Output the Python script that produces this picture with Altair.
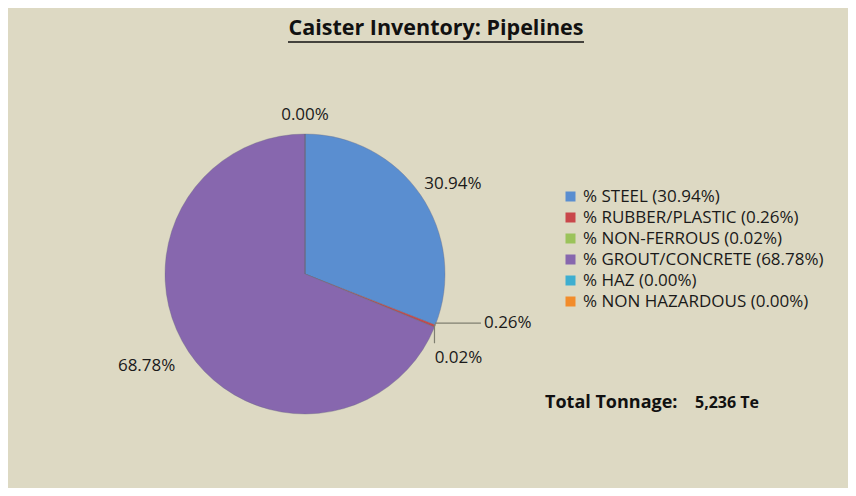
import altair as alt
import pandas as pd
import numpy as np

categories = ["% STEEL", "% RUBBER/PLASTIC", "% NON-FERROUS", "% GROUT/CONCRETE", "% HAZ", "% NON HAZARDOUS"]
percent = [30.94, 0.26, 0.02, 68.78, 0.00, 0.00]
colors = ["#5A8ED0", "#C9474A", "#9BC35A", "#8767AE", "#3EAED0", "#F28C2B"]
title_text = "Caister Inventory: Pipelines"
total_label = "Total Tonnage:"
total_value = "5,236 Te"

FONT = "Open Sans"
BG = "#DDD9C3"
TXT = "#1a1a1a"
CX, CY, R = 297, 266, 140

df = pd.DataFrame({"cat": categories, "pct": percent, "order": list(range(len(categories)))})
df["legend"] = [f"{c} ({p:.2f}%)" for c, p in zip(categories, percent)]
df["label"] = [f"{p:.2f}%" for p in percent]
df["mid"] = df["pct"].cumsum() - df["pct"] / 2

theta_scale = alt.Scale(domain=[0, 100], range=[0, 2 * np.pi])

arcs = alt.Chart(df).mark_arc(outerRadius=R, stroke="#6a6a80", strokeWidth=0.6, strokeOpacity=0.6).encode(
    theta=alt.Theta("pct:Q", stack=True, scale=theta_scale),
    color=alt.Color("legend:N", sort=None,
                    scale=alt.Scale(domain=list(df["legend"]), range=colors),
                    legend=alt.Legend(title=None, orient="none", legendX=554, legendY=180,
                                      symbolType="square", symbolSize=100, symbolStrokeWidth=0,
                                      labelFont=FONT, labelFontSize=17, labelColor=TXT,
                                      rowPadding=3, padding=0, labelOffset=4, labelLimit=400)),
    order=alt.Order("order:Q"),
    x=alt.value(CX), y=alt.value(CY),
)

def label_layer(cat, radius, dx=0, dy=0):
    return alt.Chart(df).transform_filter(alt.datum.cat == cat).mark_text(
        radius=radius, font=FONT, fontSize=17, color=TXT, dx=dx, dy=dy
    ).encode(theta=alt.Theta("mid:Q", scale=theta_scale), text="label:N",
             x=alt.value(CX), y=alt.value(CY))

lab_steel = label_layer("% STEEL", 173, 5, 8)
lab_conc = label_layer("% GROUT/CONCRETE", 187, -3, -12)
lab_haz = label_layer("% HAZ", 159)

# leader lines for the tiny slices
def edge(cat):
    m = float(df.loc[df.cat == cat, "mid"].iloc[0]) / 100 * 2 * np.pi
    return CX + R * np.sin(m), CY - R * np.cos(m)

ex, ey = edge("% RUBBER/PLASTIC")
fx, fy = edge("% NON-FERROUS")
lead = pd.DataFrame({
    "x": [ex, fx], "y": [ey - 3, fy - 3],
    "x2": [ex + 46, fx], "y2": [ey - 3, fy + 16],
    "tx": [ex + 49, fx + 24], "ty": [ey - 3, fy + 31],
    "label": [df.loc[df.cat == "% RUBBER/PLASTIC", "label"].iloc[0],
              df.loc[df.cat == "% NON-FERROUS", "label"].iloc[0]],
    "align": ["left", "center"],
})
lines = alt.Chart(lead).mark_rule(color="#7f7f70", strokeWidth=1.2).encode(
    x=alt.X("x:Q", scale=None), y=alt.Y("y:Q", scale=None),
    x2="x2:Q", y2="y2:Q")
lead_text_l = alt.Chart(lead).transform_filter(alt.datum.align == "left").mark_text(
    font=FONT, fontSize=17, color=TXT, align="left", baseline="middle").encode(
    x=alt.X("tx:Q", scale=None), y=alt.Y("ty:Q", scale=None), text="label:N")
lead_text_c = alt.Chart(lead).transform_filter(alt.datum.align == "center").mark_text(
    font=FONT, fontSize=17, color=TXT, align="center", baseline="middle").encode(
    x=alt.X("tx:Q", scale=None), y=alt.Y("ty:Q", scale=None), text="label:N")

title = alt.Chart(pd.DataFrame({"t": [title_text]})).mark_text(
    font=FONT, fontSize=21.5, fontWeight="bold", color="#111111", align="center", baseline="alphabetic"
).encode(text="t:N", x=alt.value(428), y=alt.value(27))
underline = alt.Chart(pd.DataFrame({"t": [title_text]})).mark_rule(color="#111111", strokeWidth=1.6).encode(
    x=alt.value(280), x2=alt.value(576), y=alt.value(34))

tot1 = alt.Chart(pd.DataFrame({"t": [total_label]})).mark_text(
    font=FONT, fontSize=18, fontWeight="bold", color="#111111", align="left", baseline="alphabetic"
).encode(text="t:N", x=alt.value(537), y=alt.value(400))
tot2 = alt.Chart(pd.DataFrame({"t": [total_value]})).mark_text(
    font=FONT, fontSize=16, fontWeight="bold", color="#111111", align="left", baseline="alphabetic"
).encode(text="t:N", x=alt.value(687), y=alt.value(400))

chart = alt.layer(arcs, lab_steel, lab_conc, lab_haz, lines, lead_text_l, lead_text_c,
                  title, underline, tot1, tot2).properties(
    width=840, height=480, background=BG, padding=0,
    autosize=alt.AutoSizeParams(type="none"),
).configure_view(stroke=None)

chart.save("out.html", embed_options={"renderer": "svg", "actions": False})
